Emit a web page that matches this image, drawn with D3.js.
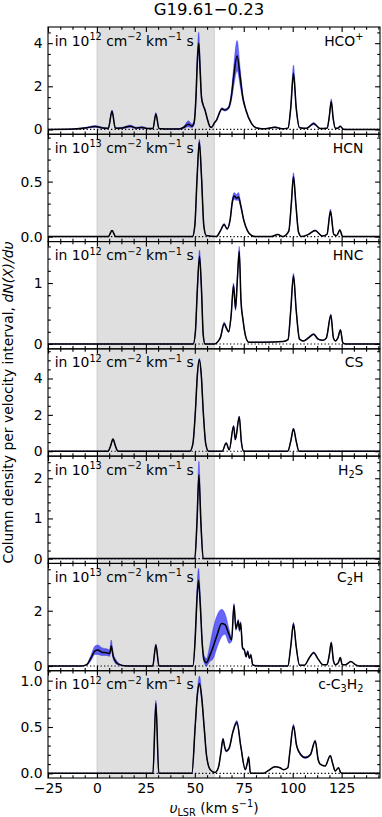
<!DOCTYPE html>
<html><head><meta charset="utf-8">
<script src="https://cdn.jsdelivr.net/npm/d3@7"></script>
<style>
body{margin:0;background:#fff}
svg text{font-family:"DejaVu Sans",sans-serif;white-space:pre}
</style>
</head><body>
<svg id="c" width="382" height="817"></svg>
<script>
// ---------------- DATA ----------------
const title = "G19.61\u22120.23";
const xDomain = [-25, 144.6];
const xMajor = [-25, 0, 25, 50, 75, 100, 125];
const xTickLabels = ["\u221225", "0", "25", "50", "75", "100", "125"];
const spanRange = [0, 60];

const molecules = ["HCO+", "HCN", "HNC", "CS", "H2S", "C2H", "c-C3H2"];
const unitExp = ["12", "13", "12", "12", "13", "13", "12"];
const yDomains = [[-0.225, 4.75], [-0.045, 0.93], [-0.08, 1.68], [-0.27, 5.63], [-0.12, 2.55], [-0.17, 3.71], [-0.05, 1.107]];
const yTicks = [[0, 2, 4], [0, 0.5], [0, 1], [0, 2, 4], [0, 1, 2], [0, 2], [0, 0.5, 1]];
const yTickLabels = [["0", "2", "4"], ["0.0", "0.5"], ["0", "1"], ["0", "2", "4"], ["0", "1", "2"], ["0", "2"], ["0.0", "0.5", "1.0"]];
const yMinorStep = [0.5, 0.1, 0.2, 0.5, 0.2, 0.5, 0.1];

// HCO+
const hcoV = [-25,-12,-5,-1,3,5.8,7.7,9.4,13,17,20,23,26,28.6,30.1,31.7,35,42,44.5,46.7,48.5,49.6,50.6,51.3,52.0,52.7,53.4,54.2,55.2,56.5,57.8,58.6,60,61.2,62.5,63.8,65.3,67.2,68.6,69.8,71.6,73.2,74.5,76.1,79,81.6,86,91,94.5,97.6,99.0,100.4,101.8,103.5,107,110.7,114,117.6,118.7,119.7,120.7,121.8,123,124.3,125.8,128,145];
const hcoN = [0,0.02,0.08,0.14,0.07,0.05,0.84,0.06,0.07,0.15,0.07,0.09,0.04,0.04,0.72,0.04,0.02,0.02,0.1,0.24,0.15,0.3,1.5,3.2,4.0,2.8,1.5,1.15,0.9,0.45,0.12,0.1,0.3,0.45,0.75,0.96,0.9,1.0,1.5,2.4,3.42,2.4,1.5,0.9,0.27,0.07,0.03,0.1,0.03,0.06,1.0,2.6,1.0,0.08,0.05,0.27,0.04,0.06,0.6,1.3,0.5,0.05,0.05,0.15,0.01,0,0];
const hcoLo = [0,0.01,0.03,0.04,0.03,0.02,0.06,0.02,0.03,0.05,0.03,0.04,0.02,0.01,0.06,0.01,0,0.01,0.05,0.12,0.07,0.1,0.2,0.3,0.4,0.3,0.1,0.05,0.04,0.03,0.02,0.02,0.03,0.04,0.05,0.05,0.05,0.06,0.2,0.45,0.7,0.4,0.15,0.05,0.02,0.01,0,0.02,0,0.01,0.1,0.25,0.1,0.01,0.01,0.05,0.01,0.01,0.05,0.1,0.05,0.01,0.01,0.02,0,0,0];
const hcoHi = [0,0.01,0.03,0.04,0.03,0.02,0.06,0.02,0.03,0.05,0.03,0.05,0.02,0.01,0.06,0.01,0.01,0.02,0.06,0.16,0.1,0.1,0.3,0.4,0.5,0.4,0.15,0.05,0.04,0.03,0.02,0.02,0.03,0.04,0.05,0.05,0.05,0.06,0.2,0.45,0.7,0.4,0.15,0.05,0.02,0.01,0.01,0.02,0.01,0.01,0.12,0.38,0.12,0.01,0.01,0.05,0.01,0.01,0.05,0.12,0.05,0.01,0.01,0.02,0,0,0];

// HCN
const hcnV = [-25,5.8,7.7,9.6,48.8,50,51.2,52.3,53.4,54.6,55.8,61,63,65,66.5,68,69.3,70.2,71.2,72.3,73.5,75,77,79,81,89,92.4,95,98,99.3,100.4,101.6,103,104.5,108,111.5,115,117.5,119.3,121,122.5,124.1,125.5,145];
const hcnN = [0,0,0.055,0,0,0.1,0.55,0.86,0.55,0.1,0.01,0,0.05,0.11,0.07,0.15,0.33,0.37,0.35,0.36,0.28,0.15,0.05,0.01,0,0,0.02,0,0.05,0.3,0.545,0.3,0.04,0,0.02,0.055,0.005,0.02,0.23,0.02,0.01,0.06,0,0];
const hcnLo = [0,0,0.005,0,0,0.01,0.02,0.02,0.02,0.01,0,0,0.005,0.01,0.005,0.01,0.02,0.03,0.02,0.03,0.02,0.01,0.005,0,0,0,0,0,0.005,0.02,0.025,0.02,0.005,0,0,0.005,0,0,0.02,0,0,0.005,0,0];
const hcnHi = [0,0,0.005,0,0,0.01,0.02,0.025,0.02,0.01,0,0,0.005,0.01,0.005,0.01,0.03,0.03,0.03,0.04,0.02,0.01,0.005,0,0,0,0,0,0.005,0.02,0.035,0.02,0.005,0,0,0.005,0,0,0.02,0,0,0.005,0,0];

// HNC
const hncV = [-25,49.2,50.3,51.3,52.4,53.4,54.3,55.2,60,61.5,63,65,66.3,67.3,68.5,69.8,70.8,71.8,72.7,73.6,74.6,76,77.5,85,95,97.6,99,100.4,101.8,103.5,105.5,108,110.7,113,115.5,117.2,119.5,120.8,121.8,123.1,124.4,125.6,127,145];
const hncN = [0,0,0.2,0.9,1.44,0.9,0.15,0,0,0.03,0.1,0.33,0.25,0.2,0.45,0.96,0.58,1.1,1.52,0.7,0.4,0.12,0.03,0.03,0.04,0.07,0.55,1.12,0.55,0.08,0.05,0.1,0.16,0.08,0.06,0.1,0.47,0.1,0.05,0.1,0.23,0.02,0,0];
const hncLo = [0,0,0.01,0.04,0.06,0.04,0.01,0,0,0,0.01,0.02,0.01,0.01,0.02,0.06,0.03,0.05,0.07,0.03,0.02,0.01,0,0,0,0.01,0.02,0.04,0.02,0.01,0,0.01,0.01,0.01,0,0.01,0.02,0.01,0,0.01,0.01,0,0,0];
const hncHi = [0,0,0.01,0.05,0.1,0.05,0.01,0,0,0,0.01,0.03,0.01,0.01,0.03,0.04,0.05,0.06,0.08,0.03,0.02,0.01,0,0,0,0.01,0.03,0.04,0.03,0.01,0,0.01,0.01,0.01,0,0.01,0.02,0.01,0,0.01,0.01,0,0,0];

// CS
const csV = [-25,5.6,7,8.2,9.4,10.8,47.5,49,50.3,51.3,52.3,53.3,54.3,55.6,57,64,66,67.6,69.8,70.7,72.7,73.8,75,97.5,99,100.4,101.8,103.2,145];
const csN = [0,0,0.3,0.67,0.3,0,0,0.4,2.2,4.2,5.03,4.2,2.2,0.4,0,0,0.45,0.08,1.38,0.64,1.89,0.5,0,0,0.55,1.23,0.55,0,0];
const csLo = [0,0,0.01,0.02,0.01,0,0,0.01,0.04,0.06,0.08,0.06,0.04,0.01,0,0,0.02,0,0.04,0.03,0.05,0.02,0,0,0.02,0.04,0.02,0,0];
const csHi = [0,0,0.01,0.02,0.01,0,0,0.01,0.04,0.06,0.08,0.06,0.04,0.01,0,0,0.02,0,0.04,0.03,0.05,0.02,0,0,0.02,0.04,0.02,0,0];

// H2S
const h2sV = [-25,50,51.1,52.1,53.1,54.3,145];
const h2sN = [0,0,0.9,2.09,0.9,0,0];
const h2sLo = [0,0,0.1,0.25,0.1,0,0];
const h2sHi = [0,0,0.15,0.33,0.15,0,0];

// C2H
const cchV = [-25,-8,-5.2,-3,-1,0.5,2.5,5,6.5,7.3,8.3,10,12,14,17,28.5,30.1,31.7,49.0,50.2,51.0,51.9,52.8,53.8,54.7,56.0,57.5,59.4,61.5,63.7,65.4,67.6,68.8,70.0,71.0,72.2,72.8,73.4,74.4,75.3,76.2,77.0,77.9,78.6,79.6,81,84,97.5,99,100.4,101.8,103.5,106,108.5,110.7,113,115.5,117.5,118.7,119.7,120.8,121.8,123.3,124.3,125.3,127,129.7,132,134,145];
const cchN = [0,0,0.05,0.3,0.55,0.58,0.5,0.48,0.45,0.72,0.35,0.12,0.04,0.01,0,0,0.76,0,0,1.0,2.3,3.1,2.2,0.8,0.22,0.12,0.35,0.7,1.15,1.54,1.5,1.12,0.94,2.2,1.35,1.63,1.3,1.55,0.65,0.58,0.34,0.52,0.28,0.4,0.04,0.01,0,0,0.7,1.52,0.7,0.03,0.03,0.3,0.48,0.25,0.05,0.05,0.4,0.84,0.2,0.05,0.12,0.31,0.05,0.05,0.16,0.05,0,0];
const cchLo = [0,0,0.02,0.1,0.13,0.16,0.12,0.1,0.1,0.12,0.09,0.06,0.02,0,0,0,0.03,0,0,0.07,0.15,0.2,0.15,0.06,0.08,0.12,0.2,0.43,0.45,0.48,0.35,0.3,0.05,0.05,0.06,0.06,0.06,0.06,0.04,0.03,0.03,0.03,0.02,0.03,0.01,0,0,0,0.02,0.05,0.02,0,0,0.01,0.03,0.01,0,0,0.02,0.04,0.01,0,0.01,0.01,0,0,0.01,0,0,0];
const cchHi = [0,0,0.02,0.1,0.17,0.18,0.16,0.14,0.13,0.22,0.11,0.08,0.02,0,0,0,0.04,0,0,0.12,0.3,0.43,0.3,0.12,0.17,0.15,0.35,0.66,0.7,0.51,0.4,0.18,0.06,0.06,0.06,0.06,0.06,0.06,0.04,0.03,0.03,0.05,0.02,0.04,0.03,0.02,0.02,0,0.02,0.06,0.02,0,0,0.01,0.03,0.01,0,0,0.02,0.04,0.01,0,0.01,0.01,0,0,0.01,0,0,0];

// c-C3H2
const c3hV = [-25,28.6,30.1,31.6,48.5,50.2,51.3,52.4,53.6,54.8,56,57.9,60.4,62,63.3,64.4,65.3,66,67.5,69.5,71.5,73.5,75.8,76.7,77.5,78.4,85,87.5,91,93.5,95.3,97.5,98.5,100.4,102,103,106.4,109,111.5,113,114,116.6,119.2,120.5,121.7,123.4,124.5,125.5,145];
const c3hN = [0,0,0.757,0,0,0.51,0.85,0.97,0.8,0.49,0.19,0.04,0.01,0.06,0.22,0.37,0.28,0.24,0.27,0.45,0.55,0.29,0.04,0.1,0.175,0,0,0.03,0.07,0.06,0.04,0.06,0.22,0.51,0.3,0.24,0.17,0.2,0.35,0.15,0.1,0.08,0.19,0.1,0.025,0.06,0.01,0,0];
const c3hLo = [0,0,0.015,0,0,0.02,0.03,0.03,0.03,0.02,0.01,0,0,0,0.01,0.01,0.01,0.01,0.01,0.01,0.02,0.01,0,0,0.005,0,0,0,0,0,0,0,0.01,0.02,0.01,0.01,0.01,0.01,0.01,0.01,0,0,0.005,0,0,0,0,0,0];
const c3hHi = [0,0,0.03,0,0,0.02,0.04,0.08,0.04,0.02,0.01,0,0,0,0.01,0.01,0.01,0.01,0.01,0.015,0.02,0.01,0,0,0.01,0,0,0,0,0,0,0,0.01,0.02,0.01,0.01,0.01,0.01,0.01,0.01,0,0,0.005,0,0,0,0,0,0];

const seriesV  = [hcoV, hcnV, hncV, csV, h2sV, cchV, c3hV];
const seriesN  = [hcoN, hcnN, hncN, csN, h2sN, cchN, c3hN];
const seriesLo = [hcoLo, hcnLo, hncLo, csLo, h2sLo, cchLo, c3hLo];
const seriesHi = [hcoHi, hcnHi, hncHi, csHi, h2sHi, cchHi, c3hHi];

const nameParts = [
  [["HCO",""],["+","sup"]],
  [["HCN",""]],
  [["HNC",""]],
  [["CS",""]],
  [["H",""],["2","sub"],["S",""]],
  [["C",""],["2","sub"],["H",""]],
  [["c-C",""],["3","sub"],["H",""],["2","sub"]]
];

// ---------------- LAYOUT ----------------
const L = 48, R = 380, T = 27, B = 778, NP = 7, PH = (B - T) / NP;
const FS = 13.9;
const svg = d3.select("#c");
const defs = svg.append("defs");
const x = d3.scaleLinear().domain(xDomain).range([L, R]);

function rich(sel, parts, size) {
  let shift = 0;
  parts.forEach(([t, k]) => {
    const target = k === "sup" ? -0.4 * size : k === "sub" ? 0.22 * size : 0;
    const ts = sel.append("tspan").attr("dy", target - shift)
      .attr("font-size", (k === "sup" || k === "sub") ? size * 0.7 : size).text(t);
    if (k === "it") ts.attr("font-style", "italic");
    shift = target;
  });
}

const xMinor = d3.range(-25, 145, 6.25).filter(v => Math.abs(v / 25 - Math.round(v / 25)) > 1e-6);

function styleAxis(g) {
  g.select(".domain").remove();
  g.selectAll("line").attr("stroke", "#000").attr("stroke-width", 1.1);
  g.selectAll("text").attr("font-family", "DejaVu Sans, sans-serif").attr("font-size", FS).attr("fill", "#000");
}

for (let i = 0; i < NP; i++) {
  const y0 = T + i * PH, y1 = y0 + PH;
  const y = d3.scaleLinear().domain(yDomains[i]).range([y1, y0]);
  const g = svg.append("g");
  defs.append("clipPath").attr("id", "cp" + i).append("rect")
    .attr("x", L).attr("y", y0).attr("width", R - L).attr("height", PH);
  const gc = g.append("g").attr("clip-path", `url(#cp${i})`);

  gc.append("rect").attr("x", x(spanRange[0])).attr("y", y0 - 2)
    .attr("width", x(spanRange[1]) - x(spanRange[0])).attr("height", PH + 4)
    .attr("fill", "#808080").attr("fill-opacity", 0.25)
    .attr("stroke", "#808080").attr("stroke-opacity", 0.25).attr("stroke-width", 1);

  gc.append("line").attr("x1", L).attr("x2", R).attr("y1", y(0)).attr("y2", y(0))
    .attr("stroke", "#000").attr("stroke-width", 1.2).attr("stroke-dasharray", "1.3,2.2");

  const data = seriesV[i].map((v, k) => ({ v, n: seriesN[i][k], lo: seriesLo[i][k] || 0, hi: seriesHi[i][k] || 0 }));
  const area = d3.area().x(d => x(d.v)).y0(d => y(d.n - d.lo)).y1(d => y(d.n + d.hi)).curve(d3.curveMonotoneX);
  gc.append("path").datum(data).attr("d", area).attr("fill", "#2a2af5").attr("fill-opacity", 0.72)
    .attr("stroke", "#2a2af5").attr("stroke-opacity", 0.5).attr("stroke-width", 0.8);
  const line = d3.line().x(d => x(d.v)).y(d => y(d.n)).curve(d3.curveMonotoneX);
  gc.append("path").datum(data).attr("d", line).attr("fill", "none")
    .attr("stroke", "#000").attr("stroke-width", 1.5).attr("stroke-linejoin", "round");

  // axes
  const ym = [];
  const st = yMinorStep[i];
  for (let k = Math.ceil(yDomains[i][0] / st); k * st <= yDomains[i][1]; k++) {
    const v = +(k * st).toFixed(6);
    if (!yTicks[i].some(t => Math.abs(t - v) < 1e-9)) ym.push(v);
  }
  g.append("g").attr("transform", `translate(${L},0)`)
    .call(d3.axisLeft(y).tickValues(yTicks[i]).tickFormat((d, k) => yTickLabels[i][k]).tickSize(-4.9).tickPadding(5.5)).call(styleAxis);
  g.append("g").attr("transform", `translate(${L},0)`)
    .call(d3.axisLeft(y).tickValues(ym).tickFormat("").tickSize(-2.8)).call(styleAxis);
  g.append("g").attr("transform", `translate(${R},0)`)
    .call(d3.axisRight(y).tickValues(yTicks[i]).tickFormat("").tickSize(-4.9)).call(styleAxis);
  g.append("g").attr("transform", `translate(${R},0)`)
    .call(d3.axisRight(y).tickValues(ym).tickFormat("").tickSize(-2.8)).call(styleAxis);
  g.append("g").attr("transform", `translate(0,${y0})`)
    .call(d3.axisTop(x).tickValues(xMajor).tickFormat("").tickSize(-4.9)).call(styleAxis);
  g.append("g").attr("transform", `translate(0,${y0})`)
    .call(d3.axisTop(x).tickValues(xMinor).tickFormat("").tickSize(-2.8)).call(styleAxis);
  g.append("g").attr("transform", `translate(0,${y1})`)
    .call(d3.axisBottom(x).tickValues(xMajor).tickFormat((d, k) => i === NP - 1 ? xTickLabels[k] : "").tickSize(-4.9).tickPadding(5)).call(styleAxis);
  g.append("g").attr("transform", `translate(0,${y1})`)
    .call(d3.axisBottom(x).tickValues(xMinor).tickFormat("").tickSize(-2.8)).call(styleAxis);

  g.append("rect").attr("x", L).attr("y", y0).attr("width", R - L).attr("height", PH)
    .attr("fill", "none").attr("stroke", "#000").attr("stroke-width", 1.1);

  // annotations
  const tl = g.append("text").attr("x", L + 0.02 * (R - L)).attr("y", y0 + 18.5).attr("font-size", FS);
  rich(tl, [["in 10",""],[unitExp[i],"sup"],[" cm",""],["\u22122","sup"],[" km",""],["\u22121","sup"],[" s",""]], FS);
  const tr = g.append("text").attr("x", L + 0.95 * (R - L)).attr("y", y0 + 18.5).attr("font-size", FS).attr("text-anchor", "end");
  rich(tr, nameParts[i], FS);
}

// title & axis labels
svg.append("text").attr("x", 209).attr("y", 14.5).attr("text-anchor", "middle").attr("font-size", 16.5).text(title);
const xl = svg.append("text").attr("x", (L + R) / 2).attr("y", 812.5).attr("text-anchor", "middle").attr("font-size", FS);
rich(xl, [["\u03c5","it"],["LSR","sub"],[" (km s",""],["\u22121","sup"],[")",""]], FS);
const yl = svg.append("text").attr("transform", `translate(13,${(T + B) / 2}) rotate(-90)`).attr("text-anchor", "middle").attr("font-size", FS);
yl.append("tspan").text("Column density per velocity interval, ");
yl.append("tspan").attr("font-style", "italic").text("dN(X)/d\u03c5");
</script>
</body></html>
